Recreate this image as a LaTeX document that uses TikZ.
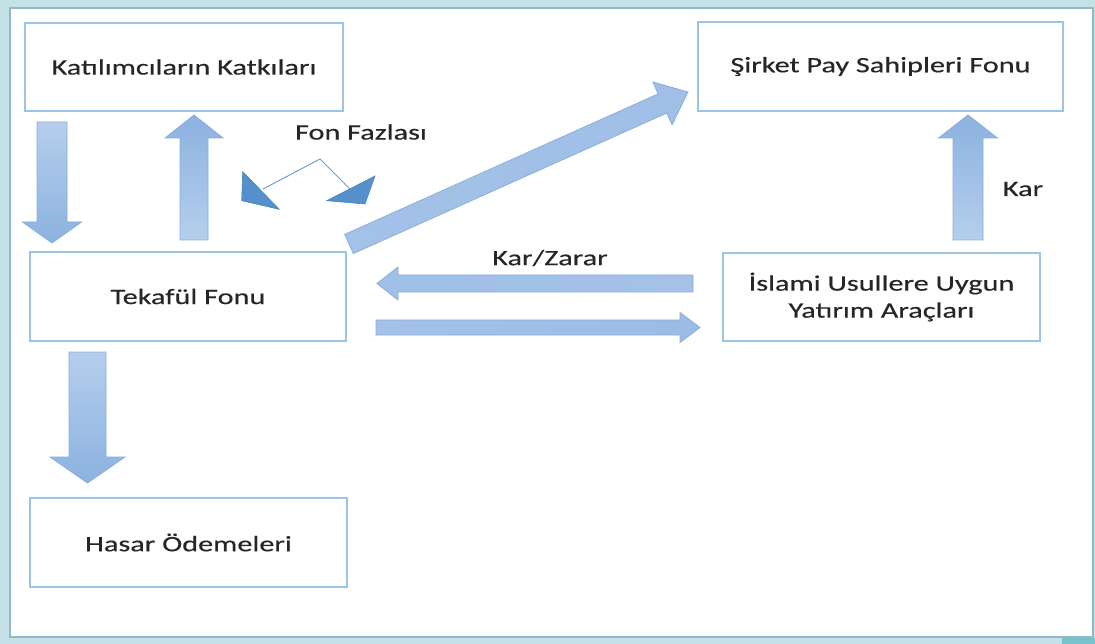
\documentclass[tikz,border=0pt]{standalone}
\usepackage{fontspec}
\setmainfont{Carlito}[FakeStretch=1.375, FakeBold=0.4]
\usetikzlibrary{calc}

\definecolor{framebg}{HTML}{C6E0E8}
\definecolor{frameline}{HTML}{92BAC6}
\definecolor{framecorner}{HTML}{78C2CD}
\definecolor{boxline}{HTML}{9DC3E6}
\definecolor{textgray}{HTML}{262626}
\definecolor{arrowlight}{HTML}{B5CEEC}
\definecolor{arrowmid}{HTML}{A4C2E8}
\definecolor{arrowdark}{HTML}{8CB2E0}
\definecolor{arrowline}{HTML}{8AAEDB}
\definecolor{tipfill}{HTML}{5590CD}
\definecolor{tipline}{HTML}{4A84C2}
\definecolor{splitline}{HTML}{6F9FD3}

% block arrow: [shading] {tail}{tip}{shaft half width}{head half width}{head length}
\newcommand\blockarrow[6][]{%
  \coordinate (ba-h) at ($(#3)!#6!(#2)$);
  \path[barrow,#1]
    ($(#2)!#4!90:(#3)$) -- ($(ba-h)!#4!90:(#3)$) -- ($(ba-h)!#5!90:(#3)$)
    -- (#3)
    -- ($(ba-h)!#5!-90:(#3)$) -- ($(ba-h)!#4!-90:(#3)$) -- ($(#2)!#4!-90:(#3)$)
    -- cycle;
}

\begin{document}
\begin{tikzpicture}[x=1pt,y=-1pt,
  box/.style={draw=boxline, line width=1.3pt, fill=white, inner sep=0pt,
    text=textgray, align=center, font=\fontsize{22}{27}\selectfont},
  lbl/.style={text=textgray, inner sep=0pt, font=\fontsize{22}{27}\selectfont},
  barrow/.style={draw=arrowline, line width=0.8pt},
  tiptri/.style={fill=tipfill, draw=tipline, line width=0.6pt, line join=miter},
  thinline/.style={draw=splitline, line width=1pt}]

\useasboundingbox (0,0) rectangle (1095,644);
% slide frame
\fill[framebg] (0,0) rectangle (1095,644);
\fill[framecorner] (1062,638) rectangle (1095,644);
\draw[frameline, line width=1.2pt, fill=white] (10,8) rectangle (1093,637);

% boxes
\node[box, minimum width=318pt, minimum height=88pt] (katki) at (184,67) {Katılımcıların Katkıları};
\node[box, minimum width=365pt, minimum height=89pt] (sirket) at (880.5,66.5) {Şirket Pay Sahipleri Fonu};
\node[box, minimum width=316pt, minimum height=89pt] (tekaful) at (188,296.5) {Tekafül Fonu};
\node[box, minimum width=317pt, minimum height=88pt] (yatirim) at (881.5,297) {İslami Usullere Uygun\\Yatırım Araçları};
\node[box, minimum width=317pt, minimum height=89pt] (hasar) at (188.5,542.5) {Hasar Ödemeleri};

% labels
\node[lbl] (fazla) at (361,132) {Fon Fazlası};
\node[lbl] (karzarar) at (550,258) {Kar/Zarar};
\node[lbl] (kar) at (1023,189) {Kar};

% arrow end points
\coordinate (a1t) at (52,122);    \coordinate (a1h) at (52,243);
\coordinate (a2t) at (194,240);   \coordinate (a2h) at (194,115);
\coordinate (a3t) at (349,244);   \coordinate (a3h) at (688,92);
\coordinate (a4t) at (968,240);   \coordinate (a4h) at (968,115);
\coordinate (a5t) at (87.5,352);  \coordinate (a5h) at (87.5,483);
\coordinate (a6t) at (693,283.5); \coordinate (a6h) at (377,283.5);
\coordinate (a7t) at (376,327.5); \coordinate (a7h) at (700,327.5);

% block arrows
\blockarrow[top color=arrowlight, bottom color=arrowdark]{a1t}{a1h}{15pt}{29.5pt}{21pt}
\blockarrow[top color=arrowdark, bottom color=arrowlight]{a2t}{a2h}{14pt}{29pt}{23pt}
\blockarrow[left color=arrowmid, right color=arrowmid!80!arrowdark, shading angle=66]{a3t}{a3h}{10.5pt}{23.5pt}{28pt}
\blockarrow[top color=arrowdark, bottom color=arrowlight]{a4t}{a4h}{15pt}{29.5pt}{23pt}
\blockarrow[top color=arrowlight, bottom color=arrowdark]{a5t}{a5h}{18.5pt}{37.5pt}{26pt}
\blockarrow[left color=arrowmid!85!arrowdark, right color=arrowmid]{a6t}{a6h}{8.5pt}{16.5pt}{21pt}
\blockarrow[left color=arrowmid, right color=arrowmid!60!arrowdark]{a7t}{a7h}{7.5pt}{15pt}{20pt}

% surplus split: thin line with two heads
\coordinate (fP) at (320,159);
\coordinate (fL) at (263,189);
\coordinate (fR) at (350,189);
\path[thinline] (fL) -- (fP) -- (fR);
\filldraw[tiptri] (242.7,171.7) -- (241.7,200.7) -- (279.3,209.3) -- cycle;
\filldraw[tiptri] (375,176) -- (326.7,200.7) -- (365,204) -- cycle;

\end{tikzpicture}
\end{document}
